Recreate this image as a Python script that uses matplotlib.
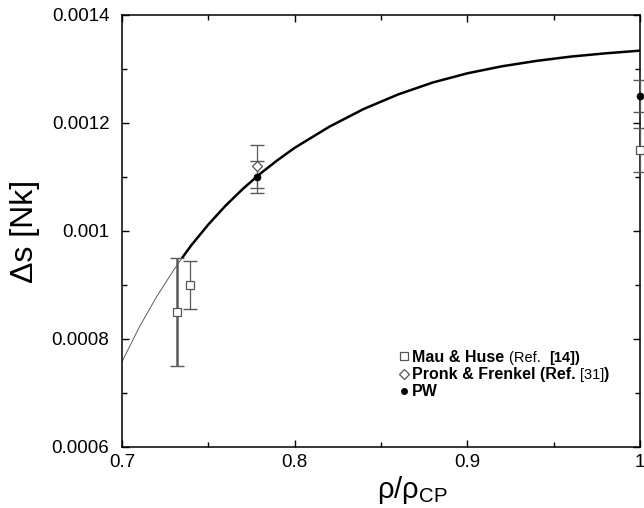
import matplotlib
matplotlib.use('Agg')
import matplotlib.pyplot as plt
import numpy as np

plt.rcParams['font.family'] = ['Liberation Sans', 'DejaVu Sans']

# fit curve (thin below rho ~ 0.735, thick above)
curve_x = [0.70, 0.71, 0.72, 0.73, 0.735, 0.74, 0.75, 0.76, 0.77, 0.78, 0.79, 0.80,
           0.82, 0.84, 0.86, 0.88, 0.90, 0.92, 0.94, 0.96, 0.98, 1.00]
curve_y = [0.000758, 0.000822, 0.000878, 0.000928, 0.000951, 0.000973, 0.001012,
           0.001047, 0.001078, 0.001106, 0.001131, 0.001154, 0.001193, 0.001226,
           0.001253, 0.001275, 0.001292, 0.001305, 0.001315, 0.001323, 0.001329,
           0.001334]
thin_until = 0.735

# Mau & Huse (Ref. [14])
mh_x = [0.732, 0.7395, 1.0]
mh_y = [0.00085, 0.00090, 0.00115]
mh_err = [0.00010, 0.000045, 0.00004]

# Pronk & Frenkel (Ref. [31])
pf_x = [0.778]
pf_y = [0.00112]
pf_err = [0.00004]

# PW
pw_x = [0.778, 1.0]
pw_y = [0.00110, 0.00125]
pw_err = [0.00003, 0.00003]

x_ticks = [0.7, 0.8, 0.9, 1.0]
x_tick_labels = ['0.7', '0.8', '0.9', '1']
y_ticks = [0.0006, 0.0008, 0.001, 0.0012, 0.0014]
y_tick_labels = ['0.0006', '0.0008', '0.001', '0.0012', '0.0014']

legend_rows = [
    ('s', [('Mau & Huse ', 'bold', 11.5), ('(Ref.  ', 'normal', 10.5),
           ('[14])', 'bold', 10.5)]),
    ('D', [('Pronk & Frenkel (Ref. ', 'bold', 11.5), ('[31]', 'normal', 10.5),
           (')', 'bold', 11.5)]),
    ('o', [('PW', 'bold', 11.5)]),
]

fig = plt.figure(figsize=(6.44, 5.08), dpi=100)
ax = fig.add_axes([122 / 644, 61 / 508, 518 / 644, 432 / 508])

cx = np.array(curve_x)
cy = np.array(curve_y)
thin = cx <= thin_until
thick = cx >= thin_until
ax.plot(cx[thin], cy[thin], color='#444444', lw=0.6, zorder=2)
ax.plot(cx[thick], cy[thick], color='black', lw=1.8, zorder=2)

err_color = '#5a5a5a'
mh_lw = [1.8, 0.9, 0.9]
for x, y, e, lw in zip(mh_x, mh_y, mh_err, mh_lw):
    ax.errorbar(x, y, yerr=e, fmt='none', ecolor=err_color, elinewidth=lw,
                capsize=4.8, capthick=1.0, zorder=3, clip_on=False)
ax.errorbar(pf_x, pf_y, yerr=pf_err, fmt='none', ecolor=err_color, elinewidth=0.9,
            capsize=4.8, capthick=1.0, zorder=3)
ax.errorbar(pw_x, pw_y, yerr=pw_err, fmt='none', ecolor=err_color, elinewidth=0.9,
            capsize=4.8, capthick=1.0, zorder=3, clip_on=False)

marker_style = {
    's': dict(ms=6, mfc='white', mec='#555555', mew=0.9),
    'D': dict(ms=5.5, mfc='white', mec='#555555', mew=0.9),
    'o': dict(ms=5, mfc='black', mec='black', mew=0.5),
}
ax.plot(mh_x, mh_y, 's', zorder=4, clip_on=False, **marker_style['s'])
ax.plot(pf_x, pf_y, 'D', zorder=4, **marker_style['D'])
ax.plot(pw_x, pw_y, 'o', zorder=5, clip_on=False, **marker_style['o'])

ax.set_xlim(0.7, 1.0)
ax.set_ylim(0.0006, 0.0014)
ax.set_xticks(x_ticks)
ax.set_xticklabels(x_tick_labels)
ax.set_yticks(y_ticks)
ax.set_yticklabels(y_tick_labels)
ax.set_xticks(np.arange(0.75, 1.0, 0.1), minor=True)
ax.set_yticks(np.arange(0.0007, 0.0014, 0.0002), minor=True)
ax.tick_params(which='both', direction='in', top=True, right=True, width=1.0)
ax.tick_params(which='major', length=5, labelsize=13.5, pad=5)
ax.tick_params(axis='y', which='major', pad=9)
ax.tick_params(which='minor', length=3.5)
for s in ax.spines.values():
    s.set_linewidth(1.1)

ax.set_ylabel('Δs [Nk]', fontsize=23)
ax.yaxis.set_label_coords(-0.158, 0.5)
ax.set_xlabel(r'ρ/ρ$_{\mathregular{CP}}$', fontsize=21)
ax.xaxis.set_label_coords(0.56, -0.062)

# hand-made legend: marker then bold/normal pieces of the label
leg_x, leg_y, row_h = 0.545, 0.210, 0.040
for i, (mk, pieces) in enumerate(legend_rows):
    yy = leg_y - i * row_h
    ax.plot([leg_x], [yy], mk, transform=ax.transAxes, clip_on=False,
            **{k: (v * 0.9 if k == 'ms' else v) for k, v in marker_style[mk].items()})
    prev = None
    for txt, weight, size in pieces:
        if prev is None:
            prev = ax.text(leg_x + 0.015, yy - 0.013, txt, transform=ax.transAxes,
                           fontsize=size, fontweight=weight, va='baseline')
        else:
            prev = ax.annotate(txt, xy=(1, 0), xycoords=prev, va='bottom',
                               fontsize=size, fontweight=weight)

fig.savefig('out.png', dpi=100)
